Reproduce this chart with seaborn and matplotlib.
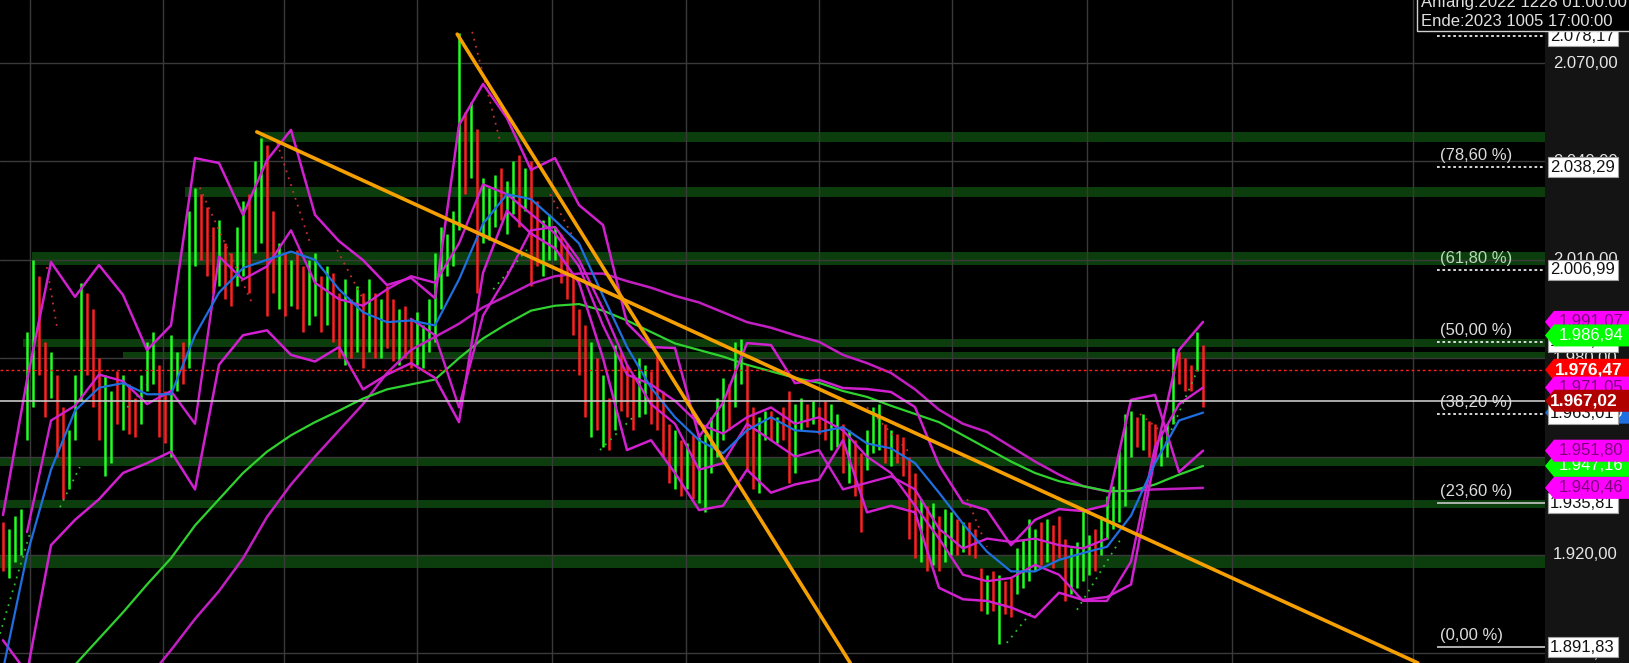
import numpy as np
import seaborn as sns
import matplotlib.pyplot as plt
from matplotlib.patches import Polygon, Rectangle

# ---- price bars, one bar per 6 px of the original chart (high / low / up-down) ----
bar_high = [1930, 1928, 1932, 1934, 1988, 2010, 2005, 1985, 1982, 1975,
            1965, 1958, 1975, 2003, 2000, 1995, 1980, 1975, 1970, 1976,
            1975, 1972, 1968, 1975, 1985, 1988, 1978, 1970, 1987, 1982,
            1985, 2025, 2032, 2030, 2026, 2020, 2022, 2015, 2012, 2020,
            2028, 2030, 2040, 2047, 2045, 2025, 2015, 2012, 2010, 2013,
            2008, 2010, 2012, 2005, 2008, 2006, 2000, 2004, 1998, 2002,
            2000, 2004, 2000, 1998, 2002, 1998, 1995, 1996, 1992, 1994,
            1990, 1998, 2012, 2020, 2018, 2025, 2079, 2055, 2058, 2050,
            2035, 2032, 2036, 2038, 2034, 2040, 2042, 2038, 2040, 2028,
            2022, 2024, 2020, 2018, 2015, 2005, 1995, 1990, 1985, 1980,
            1975, 1968, 1984, 1982, 1978, 1975, 1980, 1978, 1976, 1982,
            1970, 1960, 1958, 1955, 1954, 1957, 1956, 1957, 1962, 1968,
            1974, 1972, 1985, 1986, 1978, 1965, 1962, 1964, 1964, 1962,
            1965, 1970, 1966, 1968, 1966, 1967, 1965, 1967, 1966, 1963,
            1960, 1958, 1955, 1951, 1958, 1965, 1966, 1960, 1958, 1957,
            1956, 1950, 1945, 1937, 1935, 1936, 1932, 1934, 1933, 1931,
            1930, 1930, 1928, 1916, 1914, 1915, 1914, 1912, 1913, 1922,
            1925, 1931, 1928, 1930, 1931, 1929, 1932, 1925, 1922, 1924,
            1934, 1926, 1928, 1932, 1938, 1941, 1952, 1963, 1964, 1962,
            1963, 1961, 1960, 1958, 1960, 1983, 1982, 1980, 1978, 1988,
            1984]
bar_low = [1915, 1913, 1918, 1920, 1955, 1965, 1975, 1962, 1968, 1950,
           1937, 1940, 1955, 1967, 1975, 1965, 1955, 1944, 1948, 1960,
           1958, 1957, 1956, 1960, 1970, 1972, 1956, 1954, 1950, 1970,
           1972, 1977, 2008, 2010, 2005, 2000, 2002, 1998, 1996, 2002,
           2005, 2000, 2012, 2015, 1993, 2000, 1995, 1993, 1996, 1995,
           1988, 1990, 1993, 1988, 1990, 1985, 1980, 1978, 1980, 1982,
           1977, 1982, 1980, 1980, 1983, 1979, 1978, 1980, 1977, 1978,
           1977, 1982, 1985, 1995, 2005, 2008, 2019, 2030, 2035, 2000,
           2015, 2016, 2020, 2022, 2018, 2024, 2020, 2025, 2002, 2008,
           2005, 2010, 2010, 2003, 1998, 1987, 1975, 1962, 1956, 1958,
           1953, 1952, 1958, 1964, 1962, 1958, 1962, 1963, 1960, 1958,
           1950, 1942, 1940, 1938, 1940, 1937, 1936, 1933, 1945, 1950,
           1955, 1958, 1965, 1972, 1946, 1940, 1939, 1955, 1955, 1954,
           1955, 1942, 1945, 1958, 1959, 1960, 1957, 1955, 1952, 1953,
           1945, 1942, 1938, 1927, 1946, 1951, 1952, 1948, 1947, 1948,
           1944, 1925, 1919, 1918, 1915, 1917, 1915, 1918, 1920, 1920,
           1921, 1920, 1919, 1903, 1902, 1903, 1893, 1902, 1901, 1908,
           1910, 1912, 1915, 1917, 1918, 1916, 1919, 1906, 1908, 1910,
           1912, 1914, 1915, 1920, 1925, 1928, 1930, 1935, 1950, 1953,
           1952, 1950, 1949, 1947, 1950, 1960, 1972, 1970, 1970, 1976,
           1965]
bar_dir = ("rggggg rrgr rgggrrrggr grrgggrrgg rggrrrgrrg grggrrgrgr "
           "rggrgrrgrg rgrgrrgrrg ggggggg rgr gggrggrgrr gggrrrrrgr "
           "grgrrrggrr rrgrgrgggg grggrrggrg rrggrgrrgg rgrrgggrgr "
           "rrrgrgrggr grrrgrgrrg gggrgrrrgg ggrggggggr grrgggrrrg r").replace(" ", "")

# ---- indicator lines, read every 4 bars ----
ind_bars = list(range(0, 201, 4))
ma_blue = [1885, 1920, 1946, 1964, 1971, 1972.4, 1969, 1969, 1987, 2000,
           2007.5, 2010, 2012.5, 2010, 2001, 1994, 1991, 1991.5, 1990, 2004,
           2021, 2030, 2028.5, 2022, 2015, 1999, 1983.4, 1971, 1962, 1955,
           1951, 1958, 1962, 1958, 1957.5, 1959, 1954, 1952.5, 1948, 1939,
           1929.5, 1921, 1915, 1915, 1918.5, 1920.6, 1922.5, 1932, 1948, 1961,
           1963.4]
ma_green = [1862, 1870, 1878, 1886.5, 1894.5, 1902.5, 1911, 1919, 1929, 1937,
            1945, 1951.5, 1956.5, 1960.5, 1964, 1967.7, 1970.5, 1972, 1973.5, 1980,
            1986, 1990.5, 1994.5, 1996, 1996.5, 1994.5, 1991.5, 1988, 1984.5, 1982.5,
            1980.5, 1978, 1976, 1974, 1972.5, 1970, 1968.2, 1965.5, 1963, 1960.5,
            1956.5, 1952.5, 1948.5, 1945, 1942.5, 1941, 1939.5, 1939.5, 1941.5, 1944.5,
            1947.16]
ma_slow = [1828, 1837, 1846, 1855, 1864, 1873, 1882, 1891, 1900.5, 1909,
           1919, 1931.6, 1941.5, 1950, 1958, 1966, 1975.5, 1982.5, 1986.5, 1990.5,
           1995.5, 1999, 2002.7, 2005, 2005.8, 2005.8, 2003.5, 2001.5, 1999, 1997,
           1994, 1991, 1989.3, 1987, 1985, 1981, 1978.5, 1975.5, 1970.5, 1964.3,
           1960, 1957.5, 1953, 1948.5, 1944.5, 1941, 1939.4, 1939.6, 1940, 1940.2,
           1940.46]
band_a = [1932.2, 1973.4, 2009.3, 1998.7, 2008.4, 1999.3, 1982.5, 1990, 2041, 2039.5,
          2023.7, 2040.4, 2049.6, 2023.7, 2015.7, 2009.9, 2002.3, 2004.5, 1998.3, 2051.1,
          2063.6, 2053.2, 2037.4, 2041, 2026.7, 2020.6, 1990.7, 1983.4, 1983.1, 1956,
          1966.4, 1984.6, 1984, 1972.4, 1973.4, 1970.9, 1970.6, 1969.7, 1965.1, 1947.4,
          1935.9, 1933.7, 1923, 1930.7, 1934, 1933.4, 1935.2, 1967.3, 1968.8, 1945.3,
          1951.8]
band_b = [1894, 1884, 1923, 1930.7, 1937, 1945, 1948, 1951.5, 1940, 1978,
          1987, 1988.5, 1981, 1979, 1983.4, 1970.5, 1975, 1978.5, 1974, 1960.5,
          2006, 2025, 2018, 2013.5, 2003, 1980, 1952, 1955, 1945, 1933.7,
          1935, 1946, 1939, 1941.5, 1943, 1955, 1933, 1935, 1933, 1910,
          1906.5, 1906, 1904, 1901, 1908.5, 1906.3, 1907.2, 1911, 1950, 1982.5,
          1991.07]
band_c = [np.nan, 1927, 1961, 1965.5, 1975, 1973, 1966, 1970, 1960, 2011,
          2004, 2008, 2019, 2003, 1998, 1996, 2001, 2005, 2003, 2015,
          2033, 2030, 2024, 2018, 2008, 1990, 1975, 1972, 1967, 1960,
          1957, 1962, 1965, 1960, 1962, 1958, 1950, 1945, 1935, 1925,
          1914, 1912, 1913, 1917, 1914, 1906, 1906, 1918, 1953, 1966,
          1971.05]
band_d = [np.nan] * 17 + [1992, 1987, 1965,
          1993, 2005, 2019, 2020, 2010, 1995, 1978, 1966, 1960, 1946,
          1948, 1960, 1955, 1950, 1952, 1940, 1942, 1944, 1940, 1928,
          1922, 1925, 1924, 1925, 1923, 1922, 1925] + [np.nan] * 4

# ---- parabolic SAR trails: (first bar, last bar, first value, last value) ----
sar_red_bar0 = [7.3, 32.8, 45.7, 55.7, 78.2, 91.2, 144.0, 160.7, 189.5]
sar_red_bar1 = [9.0, 41.7, 51.2, 60.7, 82.8, 95.0, 151.2, 164.0, 192.8]
sar_red_v0 = [2007.8, 2032.0, 2045.6, 2013.0, 2079.5, 2030.0, 1965.0, 1937.0, 1963.0]
sar_red_v1 = [1989.5, 1996.0, 2015.0, 1995.6, 2046.5, 2017.0, 1951.0, 1922.5, 1958.0]
sar_grn_bar0 = [-0.5, 9.5, 20.7, 81.7, 99.5, 167.3, 179.0, 192.8]
sar_grn_bar1 = [4.5, 12.8, 24.0, 87.3, 105.0, 171.7, 186.2, 199.0]
sar_grn_v0 = [1896.0, 1934.6, 1965.0, 2001.0, 1952.0, 1893.2, 1903.3, 1950.0]
sar_grn_v1 = [1926.7, 1946.8, 1972.0, 2013.0, 1962.0, 1903.3, 1924.6, 1976.0]

# ---- support zones (price low, price high, first bar) ----
zone_low = [2045.9, 2029.1, 2008.4, 1983.4, 1979.8, 1947.1, 1934.3, 1916.0]
zone_high = [2049.0, 2032.2, 2012.4, 1985.9, 1981.9, 1949.9, 1936.8, 1920.0]
zone_start = [42.8, 30.3, 4.8, 3.3, 20.0, -0.5, -0.5, -0.5]

# ---- trend lines (bar, price) ----
trend_a_bar, trend_a_price = [42.3, 235.8], [2049.0, 1887.1]
trend_b_bar, trend_b_price = [75.7, 141.2], [2078.8, 1887.1]

# ---- fibonacci retracement ----
fib_levels = [2078.17, 2038.29, 2006.99, 1985.00, 1963.01, 1935.81, 1891.83]
fib_labels = ["(100,00 %)", "(78,60 %)", "(61,80 %)", "(50,00 %)", "(38,20 %)", "(23,60 %)", "(0,00 %)"]
fib_start = 239

last_price = 1967.02
prev_close = 1976.47
sar_last = 1986.94
price_ticks = [2070, 2040, 2010, 1980, 1950, 1920, 1890]
month_lines = [4.5, 26.7, 46.8, 69, 91.5, 113.8, 136, 158.2, 180.7, 204.8, 235]


def de(v):
    s = f"{v:,.2f}"
    return s.replace(",", "X").replace(".", ",").replace("X", ".")


sns.set_theme(style="dark")
plt.rcParams['font.family'] = ['Liberation Sans', 'DejaVu Sans']

fig = plt.figure(figsize=(16.29, 6.63), dpi=100, facecolor='#141414')
ax = fig.add_axes([0, 0, 1545 / 1629, 1])
side = fig.add_axes([1545 / 1629, 0, 84 / 1629, 1])
y_lo, y_hi = 1887.07, 2089.21
x_hi = 257
ax.set_xlim(-0.5, x_hi)
ax.set_ylim(y_lo, y_hi)
ax.set_facecolor('black')
ax.grid(False)
ax.set_xticks([])
ax.set_yticks([])
for s in ax.spines.values():
    s.set_visible(False)

# grid
for g in month_lines:
    ax.axvline(g, color='#3a3a3a', lw=1, zorder=1.5)
for p in price_ticks:
    ax.axhline(p, color='#3a3a3a', lw=1, zorder=1.5)

# zones
for lo_, hi_, st in zip(zone_low, zone_high, zone_start):
    ax.fill_between([st, x_hi], lo_, hi_, color='#0c3d0c', lw=0, zorder=1)

# bars
idx = np.arange(len(bar_high))
cols = ['#22ff22' if d == 'g' else '#ff2020' for d in bar_dir]
ax.vlines(idx, bar_low, bar_high, colors=cols, lw=1.8, zorder=2)

# parabolic SAR trails
for b0, b1, v0, v1 in zip(sar_red_bar0, sar_red_bar1, sar_red_v0, sar_red_v1):
    ax.plot([b0, b1], [v0, v1], color='#c83030', lw=1.3, ls=(0, (1, 3)), zorder=2.5)
for b0, b1, v0, v1 in zip(sar_grn_bar0, sar_grn_bar1, sar_grn_v0, sar_grn_v1):
    ax.plot([b0, b1], [v0, v1], color='#30c030', lw=1.3, ls=(0, (1, 3)), zorder=2.5)

# indicators
for vals, c, lw in [(ma_slow, '#c21fc2', 1.8), (ma_green, '#2fd22f', 1.6),
                    (band_d, '#d020d0', 1.7), (band_c, '#d020d0', 1.7),
                    (band_b, '#d020d0', 1.8), (band_a, '#d020d0', 1.8),
                    (ma_blue, '#1f6fe0', 1.6)]:
    sns.lineplot(x=ind_bars, y=vals, ax=ax, color=c, lw=lw, estimator=None,
                 sort=False, legend=False, zorder=3)

# trend lines
for bx, py in [(trend_a_bar, trend_a_price), (trend_b_bar, trend_b_price)]:
    sns.lineplot(x=bx, y=py, ax=ax, color='#f5a000', lw=2.6, estimator=None,
                 sort=False, legend=False, zorder=4)

# price lines
ax.axhline(last_price, color='#c8c8c8', lw=1.2, zorder=3.5)
ax.axhline(prev_close, color='#ff2020', lw=1, ls=(0, (2, 2)), zorder=3.5)

# fibonacci
for lvl, lab in zip(fib_levels, fib_labels):
    solid = lvl < 1940
    ax.hlines(lvl, fib_start, x_hi, colors='#bdbdbd' if solid else '#e8e8e8',
              linestyles='-' if solid else (0, (1.5, 1.5)), lw=1.3, zorder=5)
    tc = '#b6dcb6' if lab == "(61,80 %)" else '#dcdcdc'
    ax.annotate(lab, (fib_start, lvl), xytext=(2, 3), textcoords='offset points',
                ha='left', va='bottom', fontsize=12, color=tc, zorder=5)

# right price scale
side.set_xlim(0, 84)
side.set_ylim(y_lo, y_hi)
side.set_facecolor('#141414')
side.grid(False)
side.set_xticks([])
side.set_yticks([])
for s in side.spines.values():
    s.set_visible(False)
for p in price_ticks:
    side.text(8, p, de(p), va='center', ha='left', fontsize=12, color='#e6e6e6', zorder=1)

unit = (y_hi - y_lo) / 663.0
h_tag = 22 * unit
h_fib = 20 * unit


def fib_tag(v, z):
    side.add_patch(Rectangle((3, v - h_fib / 2), 70, h_fib, fc='white', ec='#a0a0a0', lw=0.8, zorder=z))
    side.text(5, v, de(v), va='center', ha='left', fontsize=12, color='#111111', zorder=z)


def color_tag(v, fc, tc, z, bold=False, tx=14):
    pts = [(0, v), (9, v + h_tag / 2), (95, v + h_tag / 2), (95, v - h_tag / 2), (9, v - h_tag / 2)]
    side.add_patch(Polygon(pts, closed=True, fc=fc, ec='none', zorder=z))
    side.text(tx, v, de(v), va='center', ha='left', fontsize=12.5 if bold else 12,
              fontweight='bold' if bold else 'normal', color=tc, zorder=z)


for v in fib_levels:
    fib_tag(v, 2)
color_tag(band_b[-1], '#ff00ff', '#7a007a', 3)
color_tag(sar_last, '#00ff00', 'white', 4)
color_tag(prev_close, '#ff0000', 'white', 5, bold=True, tx=10)
color_tag(ma_blue[-1], '#1f6fe0', 'white', 1.8)
color_tag(band_c[-1], '#ff00ff', '#7a007a', 6)
color_tag(last_price, '#b00000', 'white', 7, bold=True, tx=5)
fib_tag(fib_levels[5], 2)
color_tag(ma_green[-1], '#00ff00', 'white', 3)
color_tag(band_a[-1], '#ff00ff', '#7a007a', 4)
color_tag(ma_slow[-1], '#ff00ff', '#7a007a', 5)

# period box
fig.add_artist(Rectangle((1417 / 1629, 1 - 31 / 663), 230 / 1629, 45 / 663,
                         transform=fig.transFigure, fc='black', ec='#d0d0d0', lw=1, zorder=10))
fig.text(1421 / 1629, 1 - 3 / 663, "Anfang:2022 1228 01:00:00", fontsize=12, color='#e0e0e0',
         va='center', ha='left', zorder=11)
fig.text(1421 / 1629, 1 - 21 / 663, "Ende:2023 1005 17:00:00", fontsize=12, color='#e0e0e0',
         va='center', ha='left', zorder=11)

fig.savefig('out.png', dpi=100, facecolor=fig.get_facecolor())
